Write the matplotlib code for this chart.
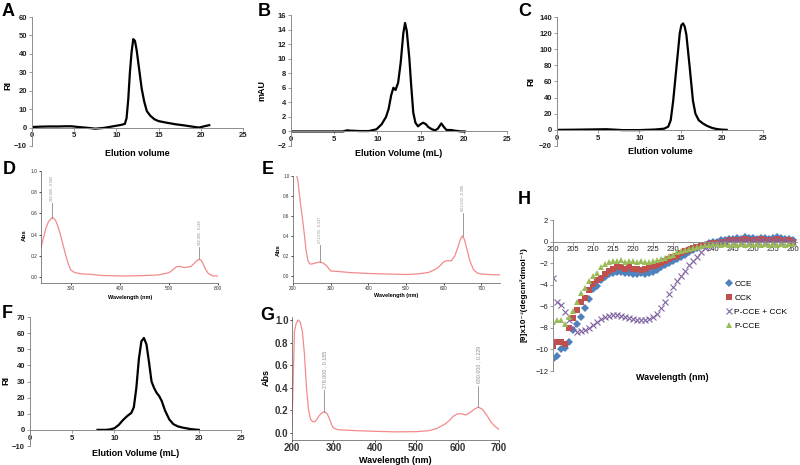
import numpy as np
import matplotlib
matplotlib.use('Agg')
import matplotlib.pyplot as plt

plt.rcParams['font.family'] = ['Liberation Sans', 'DejaVu Sans']

# ---- data ----
A_vol = [0, 1, 2, 3, 4, 4.7, 5.5, 6.5, 7.5, 8.5,
         9.5, 10.5, 11.0, 11.2, 11.4, 11.6, 11.8, 12.0, 12.2, 12.4,
         12.6, 12.8, 13.0, 13.3, 13.6, 14.0, 14.5, 15.0, 16.0, 17.0,
         18.0, 19.0, 19.8, 20.5, 21.0]
A_ri = [0.3, 0.5, 0.6, 0.6, 0.7, 0.7, 0.3, -0.1, -0.6, -0.2,
        0.6, 1.4, 2.0, 5, 15, 30, 41, 48, 47, 42,
        35, 28, 21, 14, 9, 6.5, 4.5, 3.5, 2.6, 1.8,
        1.2, 0.5, 0.0, 0.8, 1.3]

B_vol = [0, 2, 4, 6, 6.5, 7, 8, 9, 9.9, 10.5,
         11.0, 11.3, 11.6, 11.85, 12.1, 12.4, 12.7, 13.0, 13.2, 13.4,
         13.7, 13.9, 14.15, 14.4, 14.7, 15.0, 15.3, 15.6, 15.9, 16.3,
         16.7, 17.0, 17.4, 17.7, 18.0, 18.5, 19.0, 19.7, 20.1]
B_mau = [0, 0, 0, 0, 0.15, 0.1, 0.05, 0.05, 0.3, 1.0,
         2.0, 3.1, 5.0, 6.0, 5.7, 6.7, 9.5, 13.5, 14.9, 13.8,
         10.0, 6.5, 2.6, 1.2, 0.7, 1.0, 1.2, 1.0, 0.6, 0.3,
         0.15, 0.4, 1.1, 0.6, 0.2, 0.2, 0.1, 0.0, 0.0]

C_vol = [0, 2, 4, 6, 8, 10, 12, 13.0, 13.5, 13.8,
         14.1, 14.5, 14.9, 15.1, 15.3, 15.5, 15.7, 16.1, 16.5, 16.8,
         17.2, 17.7, 18.2, 18.8, 19.4, 20.0, 20.6]
C_ri = [0, 0.2, 0.5, 0.8, -0.3, -0.3, 0.5, 1.5, 4, 12,
        36, 78, 120, 130, 132, 128, 118, 78, 36, 20,
        12, 8, 5, 2.5, 1, 0.3, 0]

F_vol = [8, 9, 9.5, 10, 10.5, 11, 11.5, 12, 12.3, 12.6,
         12.9, 13.2, 13.5, 13.8, 14.1, 14.4, 14.7, 15.0, 15.3, 15.6,
         16.0, 16.5, 17.0, 17.5, 18.0, 19.0, 20.0]
F_ri = [0, 0, 0.3, 1, 3, 6, 8.5, 10.5, 14, 26,
        44, 55, 57, 53, 42, 30, 26, 23, 21, 18,
        12, 6.5, 3.5, 2.2, 1.5, 0.5, 0]

D_wl = [240, 245, 250, 255, 260, 263, 266, 270, 275, 280,
        285, 290, 295, 300, 305, 310, 320, 340, 360, 380,
        400, 420, 440, 460, 480, 490, 500, 505, 510, 515,
        520, 525, 530, 535, 540, 545, 550, 555, 560, 563,
        566, 570, 575, 580, 585, 590, 595, 600]
D_abs = [0.28, 0.37, 0.46, 0.52, 0.55, 0.56, 0.555, 0.53, 0.47, 0.39,
         0.30, 0.21, 0.13, 0.07, 0.05, 0.04, 0.03, 0.025, 0.015, 0.012,
         0.01, 0.01, 0.012, 0.015, 0.02, 0.03, 0.04, 0.055, 0.075, 0.095,
         0.10, 0.097, 0.09, 0.09, 0.095, 0.10, 0.12, 0.145, 0.163, 0.165,
         0.155, 0.12, 0.07, 0.035, 0.02, 0.01, 0.01, 0.01]
D_peaks = [(262, 0.560), (562, 0.165)]

E_wl = [210, 213, 216, 220, 225, 230, 235, 240, 245, 250,
        260, 270, 280, 290, 300, 320, 350, 400, 450, 500,
        530, 560, 580, 590, 600, 610, 620, 630, 640, 645,
        650, 655, 660, 670, 680, 690, 700, 720, 750]
E_abs = [1.0, 0.95, 0.85, 0.72, 0.58, 0.42, 0.25, 0.15, 0.12, 0.12,
         0.13, 0.14, 0.13, 0.10, 0.05, 0.045, 0.035, 0.025, 0.02, 0.015,
         0.02, 0.035, 0.07, 0.10, 0.14, 0.155, 0.15, 0.20, 0.31, 0.37,
         0.40, 0.37, 0.30, 0.15, 0.06, 0.03, 0.02, 0.015, 0.01]
E_peaks = [(271, 0.137), (651, 0.399)]

G_wl = [200, 203, 206, 210, 215, 220, 225, 230, 235, 240,
        245, 250, 255, 260, 265, 270, 275, 280, 285, 290,
        295, 300, 310, 330, 360, 400, 450, 500, 530, 550,
        570, 580, 590, 600, 610, 620, 630, 640, 650, 660,
        670, 680, 690, 700]
G_abs = [0.05, 0.5, 0.9, 0.97, 1.0, 0.98, 0.9, 0.7, 0.4, 0.2,
         0.12, 0.10, 0.10, 0.12, 0.15, 0.17, 0.185, 0.185, 0.17, 0.13,
         0.08, 0.045, 0.03, 0.025, 0.02, 0.015, 0.01, 0.012, 0.02, 0.04,
         0.08, 0.11, 0.15, 0.17, 0.17, 0.16, 0.18, 0.21, 0.229, 0.21,
         0.16, 0.10, 0.06, 0.03]
G_peaks = [(278, 0.185), (650, 0.229)]

H_wl = list(range(200, 261))
H_names = ['CCE', 'CCK', 'P-CCE + CCK', 'P-CCE']
H_cce = [-10.9, -10.6, -10.0, -9.9, -9.3, -8.2, -7.6, -7.0, -6.2, -5.3,
         -4.4, -4.1, -3.6, -3.3, -3.0, -2.9, -2.8, -2.8, -2.9, -2.9,
         -3.0, -3.0, -2.9, -3.0, -2.9, -2.8, -2.6, -2.4, -2.2, -2.0,
         -1.8, -1.6, -1.4, -1.2, -1.0, -0.8, -0.6, -0.4, -0.3, -0.1,
         0.0, 0.0, 0.1, 0.1, 0.2, 0.2, 0.3, 0.2, 0.4, 0.3,
         0.3, 0.2, 0.3, 0.3, 0.2, 0.3, 0.4, 0.3, 0.2, 0.2,
         0.1]
H_cck = [-9.7, -9.3, -9.3, -9.5, -8.0, -7.1, -6.3, -5.6, -5.2, -4.5,
         -3.9, -3.6, -3.4, -3.0, -2.7, -2.5, -2.4, -2.4, -2.5, -2.4,
         -2.5, -2.5, -2.6, -2.5, -2.4, -2.3, -2.2, -2.0, -1.8, -1.6,
         -1.4, -1.3, -1.1, -0.9, -0.8, -0.6, -0.5, -0.4, -0.3, -0.2,
         -0.1, -0.1, 0.0, 0.0, 0.1, 0.1, 0.1, 0.1, 0.2, 0.1,
         0.1, 0.1, 0.2, 0.1, 0.1, 0.1, 0.2, 0.1, 0.1, 0.1,
         0.0]
H_mix = [-3.4, -5.6, -5.9, -6.5, -7.3, -8.0, -8.4, -8.3, -8.2, -8.0,
         -7.7, -7.5, -7.2, -7.0, -6.9, -6.8, -6.8, -6.9, -7.0, -7.1,
         -7.2, -7.3, -7.3, -7.3, -7.2, -7.0, -6.7, -6.2, -5.6, -4.9,
         -4.2, -3.7, -3.2, -2.7, -2.2, -1.8, -1.4, -1.0, -0.6, -0.4,
         -0.2, -0.1, 0.0, 0.0, 0.1, 0.0, 0.1, 0.0, 0.1, 0.0,
         0.1, 0.0, 0.1, 0.0, 0.1, 0.0, 0.1, 0.0, 0.1, 0.0,
         0.0]
H_pcce = [-7.5, -7.3, -7.3, -7.6, -7.0, -6.4, -5.6, -4.8, -4.3, -3.7,
          -3.2, -2.9, -2.4, -2.1, -1.9, -1.8, -1.8, -1.7, -1.9, -1.8,
          -1.8, -1.9, -1.8, -1.9, -1.9, -1.8, -1.7, -1.6, -1.5, -1.3,
          -1.2, -1.0, -0.9, -0.8, -0.7, -0.6, -0.5, -0.4, -0.3, -0.3,
          -0.2, -0.2, -0.3, -0.2, -0.3, -0.2, -0.3, -0.2, -0.3, -0.2,
          -0.3, -0.2, -0.3, -0.2, -0.3, -0.2, -0.3, -0.2, -0.3, -0.2,
          -0.2]

W, H = 800, 465
fig = plt.figure(figsize=(W / 100, H / 100), dpi=100)

AXIS_GREY = '#8c8c8c'
SPEC_RED = '#f28b8b'


def rect(l, t, r, b):
    return [l / W, 1 - b / H, (r - l) / W, (b - t) / H]


def label(x, y, s, **kw):
    kw.setdefault('ha', 'center')
    kw.setdefault('va', 'center')
    fig.text(x / W, 1 - y / H, s, **kw)


def plot_elution(box, x, y, ylim, ystep, xlabel, ylabel):
    """Excel style elution profile, x axis crossing at zero"""
    ax = fig.add_axes(rect(*box))
    ax.plot(x, y, color='black', lw=1.6, solid_joinstyle='round')
    ax.set_xlim(0, 25)
    ax.set_ylim(*ylim)
    ax.set_xticks(range(0, 26, 5))
    ax.set_yticks(np.arange(ylim[0], ylim[1] + 1, ystep))
    for s in ('top', 'right'):
        ax.spines[s].set_visible(False)
    ax.spines['bottom'].set_position(('data', 0))
    for s in ('left', 'bottom'):
        ax.spines[s].set_color(AXIS_GREY)
        ax.spines[s].set_linewidth(0.7)
    ax.tick_params(labelsize=5.5, length=2, width=0.6, color=AXIS_GREY, pad=1.5,
                   labelcolor='#222222')
    plt.setp(ax.get_xticklabels() + ax.get_yticklabels(), fontweight='bold')
    ax.patch.set_alpha(0)
    cx = (box[0] + box[2]) / 2
    label(cx, xlabel[1], xlabel[0], fontsize=6.5, fontweight='bold')
    label(ylabel[1], ylabel[2], ylabel[0], fontsize=6.5, fontweight='bold', rotation=90)
    return ax


def plot_spectrum(box, x, y, xlim, ylim, xticks, peaks, fs, ann_fs, bold, lines):
    """UV-vis spectrum with peak pick labels"""
    ax = fig.add_axes(rect(*box))
    ax.plot(x, y, color=SPEC_RED, lw=0.9)
    ax.set_xlim(*xlim)
    ax.set_ylim(*ylim)
    ax.set_xticks(xticks)
    ax.set_yticks([0.0, 0.2, 0.4, 0.6, 0.8, 1.0])
    ax.set_yticklabels(['0.0', '0.2', '0.4', '0.6', '0.8', '1.0'])
    for s in ('top', 'right'):
        ax.spines[s].set_visible(False)
    for s in ('left', 'bottom'):
        ax.spines[s].set_linewidth(0.5)
        ax.spines[s].set_color('#555555')
    ax.tick_params(labelsize=fs, length=1.5, width=0.5, pad=1, labelcolor='#333333')
    if bold:
        plt.setp(ax.get_xticklabels() + ax.get_yticklabels(), fontweight='bold')
    for (px, py), top in zip(peaks, lines):
        ax.plot([px, px], [py, top], color='#8a8a8a', lw=0.6)
        ax.text(px, top + 0.02, '%.3f , %.3f' % (px, py), rotation=90, ha='center',
                va='bottom', fontsize=ann_fs, color='#8a8a8a')
    return ax


# A, B, C, F : elution profiles
plot_elution((32, 17, 243, 146), A_vol, A_ri, (-10, 60), 10,
             ('Elution volume', 153), ('RI', 8, 86))
plot_elution((291, 15, 507, 146), B_vol, B_mau, (-2, 16), 2,
             ('Elution Volume (mL)', 153), ('mAU', 262, 90))
plot_elution((557, 17, 763, 146), C_vol, C_ri, (-20, 140), 20,
             ('Elution volume', 152), ('RI', 531, 82))
plot_elution((30, 317, 241, 446), F_vol, F_ri, (-10, 70), 10,
             ('Elution Volume (mL)', 453), ('RI', 6, 380))

# D, E, G : absorbance spectra
plot_spectrum((41, 171, 218, 283), D_wl, D_abs, (240, 600), (-0.057, 1.0),
              [300, 400, 500, 600], D_peaks, 3.5, 2.5, False, [0.70, 0.28])
label(130, 297, 'Wavelength (nm)', fontsize=4, fontweight='bold')
label(24, 235, 'Abs', fontsize=4.5, fontweight='bold', rotation=90)

plot_spectrum((293, 176, 500, 283), E_wl, E_abs, (200, 750), (-0.07, 1.0),
              [200, 300, 400, 500, 600, 700], E_peaks, 3.3, 2.7, False, [0.31, 0.63])
label(396, 295, 'Wavelength (nm)', fontsize=4, fontweight='bold')
label(278, 250, 'Abs', fontsize=4.5, fontweight='bold', rotation=90)

plot_spectrum((292, 317, 499, 440), G_wl, G_abs, (200, 700), (-0.062, 1.027),
              [200, 300, 400, 500, 600, 700], G_peaks, 7, 3.8, True, [0.38, 0.42])
label(395, 460, 'Wavelength (nm)', fontsize=6.5, fontweight='bold')
label(266, 378, 'Abs', fontsize=6.5, fontweight='bold', rotation=90)

# H : CD spectra
ax = fig.add_axes(rect(553, 220, 797, 371))
styles = [('D', '#4f81bd', 3.6), ('s', '#c0504d', 4.2), ('x', '#8064a2', 3.8), ('^', '#9bbb59', 4.2)]
for name, vals, (mk, col, ms) in zip(H_names, [H_cce, H_cck, H_mix, H_pcce], styles):
    ax.plot(H_wl, vals, ls='none', marker=mk, color=col, ms=ms, mew=0.8 if mk == 'x' else 0,
            label=name)
ax.set_xlim(200, 261)
ax.set_ylim(-12, 2)
ax.set_xticks(range(200, 261, 5))
ax.set_yticks(range(-12, 3, 2))
for s in ('top', 'right'):
    ax.spines[s].set_visible(False)
ax.spines['bottom'].set_position(('data', 0))
for s in ('left', 'bottom'):
    ax.spines[s].set_color(AXIS_GREY)
    ax.spines[s].set_linewidth(0.7)
ax.tick_params(labelsize=5.5, length=2, width=0.6, color=AXIS_GREY, pad=1.5, labelcolor='#222222')
ax.patch.set_alpha(0)
ax.legend(loc='upper left', bbox_to_anchor=(726 / W, 1 - 280 / H), bbox_transform=fig.transFigure,
          frameon=False, fontsize=6, handlelength=0.8, handletextpad=0.2, labelspacing=0.75,
          borderpad=0, borderaxespad=0)
label(672, 377, 'Wavelength (nm)', fontsize=6.5, fontweight='bold')
label(524, 295, '[θ]x10⁻³(degcm²dmol⁻¹)', fontsize=6, fontweight='bold', rotation=90)

# panel letters
for letter, x, y in [('A', 2, 12), ('B', 258, 11), ('C', 518, 12), ('D', 3, 170),
                     ('E', 262, 170), ('F', 2, 313), ('G', 260, 316), ('H', 518, 199)]:
    label(x, y, letter, fontsize=13, fontweight='bold', ha='left')

fig.savefig('out.png', dpi=100)
